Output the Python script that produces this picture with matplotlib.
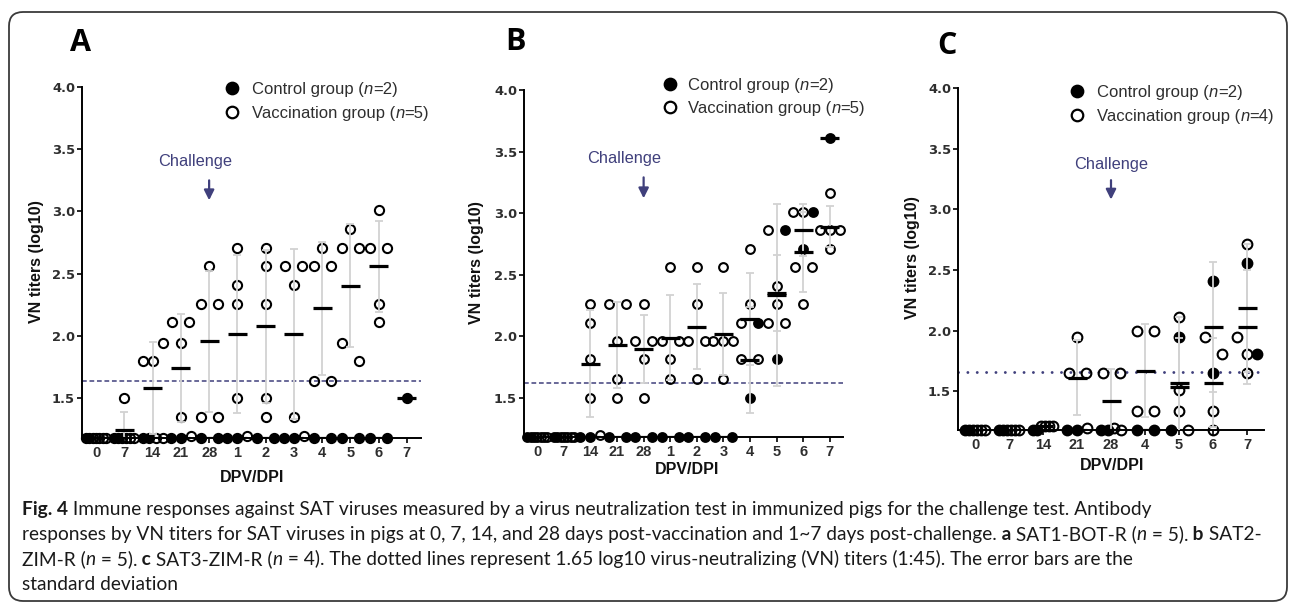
import numpy as np
import matplotlib
matplotlib.use("Agg")
import matplotlib.pyplot as plt
from matplotlib.patches import FancyBboxPatch

W, H = 1292, 603

# ---------------- data: log10 VN titers ----------------
y_ticks = [1.5, 2.0, 2.5, 3.0, 3.5, 4.0]

A_categories = ["0", "7", "14", "21", "28", "1", "2", "3", "4", "5", "6", "7"]
A_control = [
    [1.18, 1.18], [1.18, 1.18], [1.18, 1.18], [1.18, 1.18], [1.18, 1.18], [1.18, 1.18],
    [1.18, 1.18], [1.18, 1.18], [1.18, 1.18], [1.18, 1.18], [1.18, 1.18], [1.50],
]
A_vaccine = [
    [1.18, 1.18, 1.18, 1.18, 1.18],
    [1.50, 1.18, 1.18, 1.18, 1.18],
    [1.80, 1.80, 1.94, 1.18, 1.18],
    [2.11, 2.11, 1.94, 1.35, 1.20],
    [2.56, 2.26, 2.26, 1.35, 1.35],
    [2.71, 2.41, 2.26, 1.50, 1.20],
    [2.71, 2.56, 2.26, 1.50, 1.35],
    [2.56, 2.56, 2.41, 1.35, 1.20],
    [2.71, 2.56, 2.56, 1.64, 1.64],
    [2.86, 2.71, 2.71, 1.94, 1.80],
    [3.01, 2.71, 2.71, 2.26, 2.11],
    [],
]
A_threshold = 1.64
A_n = (2, 5)

B_categories = ["0", "7", "14", "21", "28", "1", "2", "3", "4", "5", "6", "7"]
B_control = [
    [1.18, 1.18], [1.18, 1.18], [1.18, 1.18], [1.18, 1.18], [1.18, 1.18], [1.18, 1.18],
    [1.18, 1.18], [1.18, 1.18], [2.11, 1.50], [2.86, 1.81], [3.01, 2.71], [3.61],
]
B_vaccine = [
    [1.18, 1.18, 1.18, 1.18, 1.18],
    [1.18, 1.18, 1.18, 1.18, 1.18],
    [2.26, 2.11, 1.81, 1.50, 1.20],
    [2.26, 2.26, 1.96, 1.65, 1.50],
    [2.26, 1.96, 1.96, 1.81, 1.50],
    [2.56, 1.96, 1.96, 1.81, 1.65],
    [2.56, 2.26, 1.96, 1.96, 1.65],
    [2.56, 1.96, 1.96, 1.96, 1.65],
    [2.71, 2.26, 2.11, 1.81, 1.81],
    [2.86, 2.41, 2.26, 2.11, 2.11],
    [3.01, 3.01, 2.56, 2.56, 2.26],
    [3.16, 2.86, 2.86, 2.86, 2.71],
]
B_threshold = 1.62
B_n = (2, 5)

C_categories = ["0", "7", "14", "21", "28", "4", "5", "6", "7"]
C_control = [
    [1.18, 1.18], [1.18, 1.18], [1.18, 1.18], [1.18, 1.18], [1.18, 1.18], [1.18, 1.18],
    [1.95, 1.18], [2.41, 1.65], [2.56, 1.81],
]
C_vaccine = [
    [1.18, 1.18, 1.18, 1.18],
    [1.18, 1.18, 1.18, 1.18],
    [1.21, 1.21, 1.21, 1.21],
    [1.95, 1.65, 1.65, 1.20],
    [1.65, 1.65, 1.20, 1.18],
    [2.00, 2.00, 1.34, 1.34],
    [2.11, 1.51, 1.34, 1.18],
    [1.95, 1.81, 1.34, 1.18],
    [2.71, 1.95, 1.81, 1.65],
]
C_threshold = 1.655
C_n = (2, 4)

caption_lines = [
    [("Fig. 4", "b"), (" Immune responses against SAT viruses measured by a virus neutralization test in "
                       "immunized pigs for the challenge test. Antibody", "r")],
    [("responses by VN titers for SAT viruses in pigs at 0, 7, 14, and 28 days post-vaccination and "
      "1~7 days post-challenge.", "r"), (" a", "b"), (" SAT1-BOT-R (", "r"), ("n", "i"),
     (" = 5).", "r"), (" b", "b"), (" SAT2-", "r")],
    [("ZIM-R (", "r"), ("n", "i"), (" = 5).", "r"), (" c", "b"), (" SAT3-ZIM-R (", "r"), ("n", "i"),
     (" = 4). The dotted lines represent 1.65 log10 virus-neutralizing (VN) titers (1:45). "
      "The error bars are the", "r")],
    [("standard deviation", "r")],
]
# right end of each caption line in the original (px)
caption_ends = [1193, 1278, 1135]

# ---------------- style ----------------
GROUP_TOL = 0.145   # values closer than this share a row and get spread sideways
STEP_PX = 17
SPAN_PX = 20
TEXT_GRAY = "#2e2e2e"
NAVY = "#40407c"
ERR_GRAY = "#d2d2d2"

fig = plt.figure(figsize=(W / 100, H / 100), dpi=100)

# background axes in pixel units (y downwards) for frame, letters, legends, caption
bg = fig.add_axes([0, 0, 1, 1])
bg.set_xlim(0, W)
bg.set_ylim(H, 0)
bg.set_axis_off()

bg.add_patch(FancyBboxPatch((9, 12), 1278, 589, boxstyle="round,pad=0,rounding_size=14",
                            fc="none", ec="#3a3a3a", lw=1.3, clip_on=False))


def style_kw(style):
    return dict(fontweight="bold" if style == "b" else "normal",
                fontstyle="italic" if style == "i" else "normal")


def runs_text(x, y, runs, size, color, family):
    # draws pieces with different styles one after another on one baseline
    t = None
    for s, style in runs:
        if t is None:
            t = bg.text(x, y, s, fontsize=size, color=color, family=family,
                        ha="left", va="baseline", **style_kw(style))
        else:
            t = bg.annotate(s, xy=(1, 0), xycoords=t, ha="left", va="bottom", fontsize=size,
                            color=color, family=family, annotation_clip=False, **style_kw(style))
    return t


def spread_points(control_vals, vaccine_vals, ppu):
    pts = [(v, False) for v in vaccine_vals] + [(v, True) for v in control_vals]
    order = sorted(range(len(pts)), key=lambda k: pts[k][0])
    groups = []
    for k in order:
        if groups and pts[k][0] - pts[groups[-1][0]][0] < GROUP_TOL:
            groups[-1].append(k)
        else:
            groups.append([k])
    out = []
    for g in groups:
        g = sorted(g)
        if pts[g[0]][0] < 1.25:
            g = sorted(g, key=lambda k: not pts[k][1])  # controls first on the bottom row
        n = len(g)
        step = min(STEP_PX, SPAN_PX / (n - 1)) if n > 1 else 0
        for j, k in enumerate(g):
            out.append(((j - (n - 1) / 2) * step / ppu, pts[k][0], pts[k][1]))
    return out


def draw_panel(rect_px, categories, control, vaccine, threshold, dotted, ms,
               letter, letter_xy, ylabel_xy, xlabel_xy, legend_xy, n_groups,
               challenge_xy, arrow_y):
    left, right, top, bottom = rect_px
    ax = fig.add_axes([left / W, 1 - bottom / H, (right - left) / W, (bottom - top) / H])
    ax.patch.set_alpha(0)
    n = len(categories)
    ax.set_xlim(-0.5, n - 0.5)
    ax.set_ylim(1.18, 4.0)
    ppu = (right - left) / n

    xs_c, ys_c, xs_v, ys_v = [], [], [], []
    for i in range(n):
        for dx, y, is_ctrl in spread_points(control[i], vaccine[i], ppu):
            if is_ctrl:
                xs_c.append(i + dx); ys_c.append(y)
            else:
                xs_v.append(i + dx); ys_v.append(y)
        for group in (vaccine[i], control[i]):
            if len(group) == 0:
                continue
            m = np.mean(group)
            sd = np.std(group, ddof=1) if len(group) > 1 else 0.0
            if sd > 0.001:
                ax.errorbar(i, m, yerr=sd, fmt="none", ecolor=ERR_GRAY, elinewidth=1.3,
                            capsize=3.2, capthick=1.3, zorder=4)
            hw = 9.5 / ppu
            ax.plot([i - hw, i + hw], [m, m], color="black", lw=2.3,
                    solid_capstyle="butt", zorder=5)

    ax.plot(xs_v, ys_v, "o", ls="none", ms=ms, mew=1.5, mec="black", mfc="none",
            clip_on=False, zorder=3)
    ax.plot(xs_c, ys_c, "o", ls="none", ms=ms, mew=1.5, mec="black", mfc="black",
            clip_on=False, zorder=3)

    if dotted:
        ax.axhline(threshold, color=NAVY, lw=2.1, ls=(0, (0.01, 3.2)),
                   dash_capstyle="round", zorder=2)
    else:
        ax.axhline(threshold, color=NAVY, lw=1.1, ls=(0, (3.1, 1.8)), zorder=2)

    # challenge marker at day 28
    ax.text(challenge_xy[0], challenge_xy[1], "Challenge", ha="center", va="center",
            fontsize=11.8, color=NAVY, family="Liberation Sans")
    ax.annotate("", xy=(4, arrow_y[1]), xytext=(4, arrow_y[0]),
                arrowprops=dict(arrowstyle="-|>,head_width=0.3,head_length=0.6",
                                color=NAVY, lw=1.6, shrinkA=0, shrinkB=0, mutation_scale=10))

    ax.set_yticks(y_ticks)
    ax.set_yticklabels([f"{v:.1f}" for v in y_ticks], fontfamily="DejaVu Sans",
                       fontweight="bold")
    ax.set_xticks(range(n))
    ax.set_xticklabels(categories, fontfamily="Liberation Sans", fontweight="bold")
    for s in ("top", "right"):
        ax.spines[s].set_visible(False)
    for s in ("left", "bottom"):
        ax.spines[s].set_linewidth(1.4)
    ax.tick_params(axis="y", length=3.5, width=1.2, pad=1.5, labelsize=9.4, labelcolor=TEXT_GRAY)
    ax.tick_params(axis="x", length=3.5, width=1.2, pad=2.5, labelsize=10.5, labelcolor=TEXT_GRAY)

    bg.text(*ylabel_xy, "VN titers (log10)", rotation=90, ha="center", va="center",
            fontsize=11.5, fontweight="bold", family="Liberation Sans", color="#111111")
    bg.text(*xlabel_xy, "DPV/DPI", ha="center", va="center", fontsize=11.5,
            fontweight="bold", family="Liberation Sans", color="#111111")
    bg.text(*letter_xy, letter, ha="center", va="center", fontsize=22, fontweight="bold",
            family="Open Sans", color="black")

    # legend
    mx, tx, y1, y2 = legend_xy
    labels = [("Control group (", n_groups[0], True), ("Vaccination group (", n_groups[1], False)]
    for (txt, cnt, filled), yy in zip(labels, (y1, y2)):
        bg.plot(mx, yy, "o", ms=8.3, mew=1.6, mec="black", mfc="black" if filled else "none",
                clip_on=False)
        runs_text(tx, yy + 6, [(txt, "r"), ("n", "i"), (f"={cnt})", "r")], 12, TEXT_GRAY,
                  "Liberation Sans")
    return ax


draw_panel((82, 421, 87, 438), A_categories, A_control, A_vaccine, A_threshold, False, 6.6,
           "A", (80, 43), (36, 262), (252, 477), (232, 252, 88, 112), A_n,
           (3.5, 3.40), (3.25, 3.09))
draw_panel((524, 843, 90, 437), B_categories, B_control, B_vaccine, B_threshold, False, 6.3,
           "B", (515, 42), (477, 263), (687, 470), (670, 688, 84, 107), B_n,
           (3.27, 3.44), (3.29, 3.12))
draw_panel((958, 1264, 88, 430), C_categories, C_control, C_vaccine, C_threshold, True, 7.0,
           "C", (947, 46), (913, 258), (1112, 465), (1077, 1097, 91, 115), C_n,
           (4.0, 3.37), (3.24, 3.08))

# ---------------- caption, sized so the lines span like the original ----------------
CAPTION_FONT = "Lato"
renderer = fig.canvas.get_renderer()


def line_width(runs, size):
    total = 0
    for s, style in runs:
        t = bg.text(0, 0, s, fontsize=size, family=CAPTION_FONT, **style_kw(style))
        total += t.get_window_extent(renderer).width
        t.remove()
    return total


cap_size = min(10 * (end - 22) / line_width(runs, 10)
               for runs, end in zip(caption_lines[:3], caption_ends))
for k, runs in enumerate(caption_lines):
    runs_text(22, 515 + 25 * k, runs, cap_size, "#1a1a1a", CAPTION_FONT)

fig.savefig("out.png", dpi=100)
